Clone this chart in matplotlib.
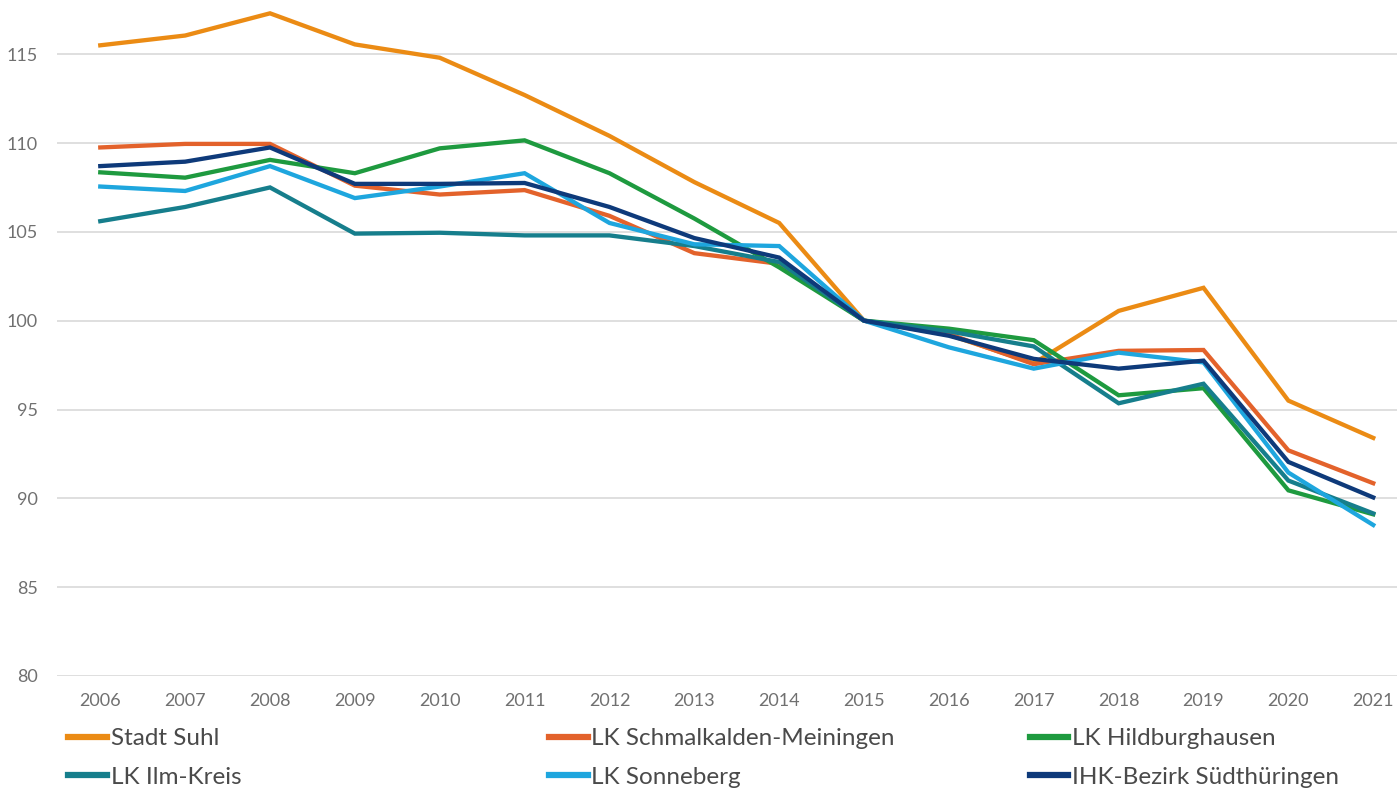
import matplotlib
matplotlib.use("Agg")
import matplotlib.pyplot as plt
from matplotlib.lines import Line2D

years = list(range(2006, 2022))

stadt_suhl = [115.5, 116.05, 117.3, 115.55, 114.8, 112.7, 110.4, 107.8, 105.5, 100.0, 99.2, 97.6, 100.55, 101.85, 95.5, 93.4]
lk_schmalkalden = [109.75, 109.95, 109.95, 107.6, 107.1, 107.35, 105.9, 103.8, 103.2, 100.0, 99.25, 97.55, 98.3, 98.35, 92.7, 90.85]
lk_hildburghausen = [108.35, 108.05, 109.05, 108.3, 109.7, 110.15, 108.3, 105.75, 103.0, 100.0, 99.55, 98.9, 95.8, 96.2, 90.45, 89.1]
lk_ilm_kreis = [105.6, 106.4, 107.5, 104.9, 104.95, 104.8, 104.8, 104.2, 103.3, 100.0, 99.4, 98.55, 95.35, 96.45, 91.0, 89.15]
lk_sonneberg = [107.55, 107.3, 108.7, 106.9, 107.55, 108.3, 105.5, 104.3, 104.2, 100.0, 98.5, 97.3, 98.2, 97.65, 91.45, 88.5]
ihk_suedthueringen = [108.7, 108.95, 109.75, 107.7, 107.7, 107.75, 106.4, 104.65, 103.55, 100.0, 99.15, 97.85, 97.3, 97.75, 92.05, 90.05]

series_names = ["Stadt Suhl", "LK Schmalkalden-Meiningen", "LK Hildburghausen",
                "LK Ilm-Kreis", "LK Sonneberg", "IHK-Bezirk Südthüringen"]
series_values = [stadt_suhl, lk_schmalkalden, lk_hildburghausen,
                 lk_ilm_kreis, lk_sonneberg, ihk_suedthueringen]
colors = ["#EB8B14", "#E3622B", "#1E9A3F", "#167E8C", "#1EA6DE", "#0E3A7A"]

y_ticks = [80, 85, 90, 95, 100, 105, 110, 115]

fig = plt.figure(figsize=(13.97, 7.95), dpi=100)
ax = fig.add_axes([0.0408, 0.1497, 0.9592, 0.8503])

tick_font = ["Lato", "DejaVu Sans"]
leg_font = ["Lato", "DejaVu Sans"]

draw_order = [0, 3, 2, 4, 1, 5]
for i in draw_order:
    ax.plot(years, series_values[i], color=colors[i], lw=3.1,
            solid_joinstyle="miter", label=series_names[i], zorder=3 + i * 0.1)

ax.set_xlim(2005.49, 2021.28)
ax.set_ylim(80, 118.05)
ax.set_yticks(y_ticks)
ax.set_xticks(years)
ax.set_xticklabels([str(y) for y in years], fontfamily=tick_font, fontsize=13, color="#707070")
ax.set_yticklabels([str(v) for v in y_ticks], fontfamily=tick_font, fontsize=13, color="#707070")
ax.grid(axis="y", color="#d9d9d9", lw=1.2, zorder=0)
for s in ax.spines.values():
    s.set_visible(False)
ax.tick_params(axis="both", length=0)
ax.tick_params(axis="x", pad=12)
ax.tick_params(axis="y", pad=14)

cols = [(0, 3), (1, 4), (2, 5)]
xpos = [0.042, 0.386, 0.730]
for (a, b), x in zip(cols, xpos):
    hs = [Line2D([0], [0], color=colors[a], lw=4.5), Line2D([0], [0], color=colors[b], lw=4.5)]
    leg = fig.legend(hs, [series_names[a], series_names[b]], loc="upper left",
                     bbox_to_anchor=(x, 0.096), frameon=False, handlelength=1.6,
                     handletextpad=0.15, labelspacing=0.72, borderaxespad=0,
                     prop={"family": leg_font, "size": 17.5})
    for t in leg.get_texts():
        t.set_color("#4a4a4a")

fig.savefig("out.png", dpi=100)
